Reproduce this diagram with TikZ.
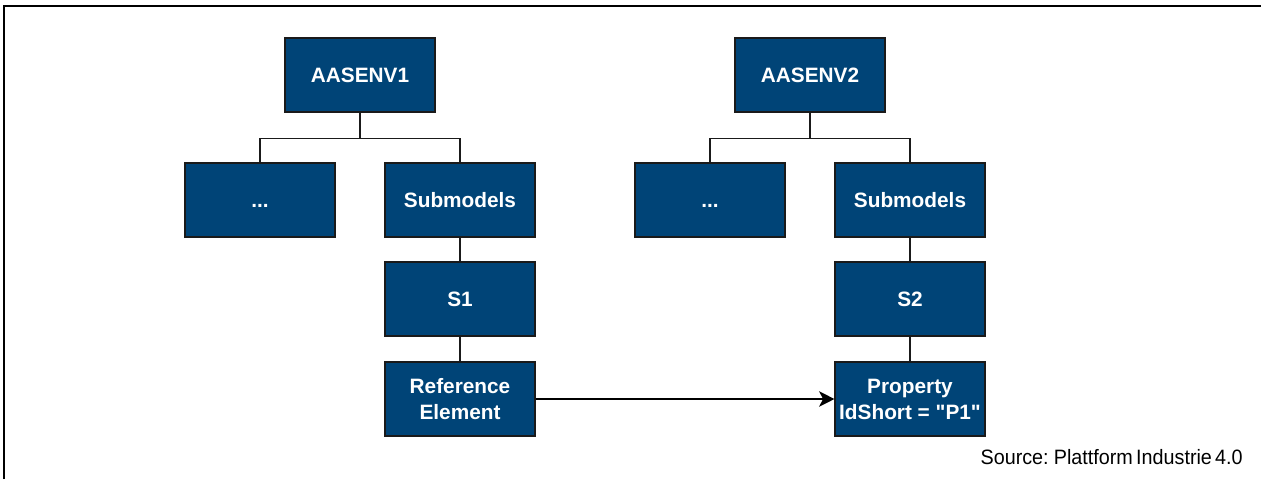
\documentclass[tikz,border=0pt]{standalone}
\usepackage{fontspec}
\setmainfont{Liberation Sans}
\newfontfamily\srcfont[FakeStretch=0.95,WordSpace=0.6]{Liberation Sans}
\usetikzlibrary{arrows.meta}
\definecolor{boxblue}{HTML}{004477}
\definecolor{boxline}{HTML}{1A1A1A}
\tikzset{
  px/.style={x=0.75pt,y=-0.75pt},
  blockbox/.style={draw=boxline, line width=0.8pt, fill=boxblue, text=white,
    minimum width=112.5pt, minimum height=55.5pt, inner sep=0pt, align=center,
    font=\fontsize{15.6pt}{19.5pt}\selectfont\bfseries},
  tree/.style={draw=boxline, line width=0.8pt},
  refarrow/.style={draw=black, line width=1.5pt, -{Stealth[length=11.5pt,width=11.5pt,inset=3pt]}},
  frameline/.style={draw=black, line width=1.6pt},
}
\begin{document}
\begin{tikzpicture}[px]
\useasboundingbox (0,0) rectangle (1261,479);
\draw[frameline] (4,479) -- (4,6) -- (1261,6);
% left tree
\node[blockbox] (env1) at (360,75) {AASENV1};
\node[blockbox] (dots1) at (260,200) {\vphantom{A}...};
\node[blockbox] (sub1) at (460,200) {Submodels};
\node[blockbox] (s1) at (460,299) {S1};
\node[blockbox] (ref) at (460,399) {Reference\\Element};
% right tree
\node[blockbox] (env2) at (810,75) {AASENV2};
\node[blockbox] (dots2) at (710,200) {\vphantom{A}...};
\node[blockbox] (sub2) at (910,200) {Submodels};
\node[blockbox] (s2) at (910,299) {S2};
\node[blockbox] (prop) at (910,399) {Property\\IdShort = \textquotedbl P1\textquotedbl};
% connectors
\draw[tree] (env1.south) |- ++(0,26) -| (dots1.north);
\draw[tree] (env1.south) |- ++(0,26) -| (sub1.north);
\draw[tree] (env2.south) |- ++(0,26) -| (dots2.north);
\draw[tree] (env2.south) |- ++(0,26) -| (sub2.north);
\draw[tree] (sub1) -- (s1);
\draw[tree] (s1) -- (ref);
\draw[tree] (sub2) -- (s2);
\draw[tree] (s2) -- (prop);
\draw[refarrow] (ref.east) -- (prop.west);
\node[anchor=base east, inner sep=0pt, text=black,
  font=\srcfont\fontsize{15.6pt}{18pt}\selectfont] (src) at (1243,464) {Source: Plattform Industrie 4.0};
\end{tikzpicture}
\end{document}
